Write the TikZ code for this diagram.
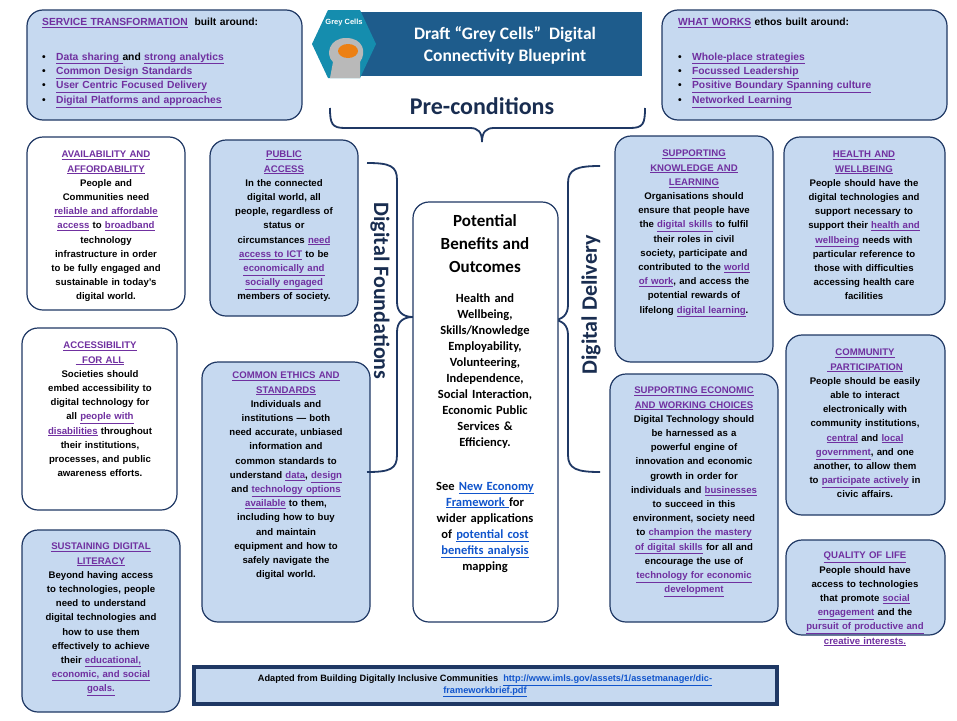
\documentclass[tikz,border=0pt]{standalone}
\usepackage{fontspec}
\setmainfont{Liberation Sans}
\newfontfamily\titlefont{Carlito}
\usetikzlibrary{positioning, calc}
\definecolor{navy}{RGB}{31,56,100}
\definecolor{cardblue}{RGB}{198,217,240}
\definecolor{banner}{RGB}{30,92,140}
\definecolor{plum}{RGB}{112,48,160}
\definecolor{linkblue}{RGB}{17,85,204}
\newcommand{\lk}[1]{{\color{plum}\underline{#1}}}
\newcommand{\bl}[1]{{\color{linkblue}\underline{#1}}}
\tikzset{
  card/.style={draw=navy, line width=1.2pt, rounded corners=16pt, fill=cardblue},
  whitecard/.style={card, fill=white},
  cardtext/.style={anchor=north, align=center, font=\bfseries\fontsize{9.6}{14.2}\selectfont, inner sep=0pt},
  toptext/.style={cardtext, anchor=north west, align=left, text width=265pt, font=\bfseries\fontsize{10.3}{14.4}\selectfont},
  bracket/.style={draw=navy, line width=1.8pt},
  headline/.style={font=\titlefont\bfseries\fontsize{22}{26}\selectfont, text=navy!80!black},
}
\begin{document}
\begin{tikzpicture}[x=1pt, y=-1pt]
        \useasboundingbox[fill=white] (0,0) rectangle (957,720);

        % top boxes
        \path[card] (27,10) rectangle (302,120);
        \node[toptext] (service) at (42,18)
            {\lk{SERVICE TRANSFORMATION} \ built around:\\[20pt]
             \textbullet\quad\lk{Data sharing }and \lk{strong analytics}\\
             \textbullet\quad\lk{Common Design Standards}\\
             \textbullet\quad\lk{User Centric Focused Delivery}\\
             \textbullet\quad\lk{Digital Platforms and approaches}};
        \path[card] (662,10) rectangle (947,120);
        \node[toptext] (works) at (678,18)
            {\lk{WHAT WORKS} ethos built around:\\[20pt]
             \textbullet\quad\lk{Whole-place strategies}\\
             \textbullet\quad\lk{Focussed Leadership}\\
             \textbullet\quad\lk{Positive Boundary Spanning culture}\\
             \textbullet\quad\lk{Networked Learning}};

        % title banner
        \fill[banner] (355,12) rectangle (642,76);
        \fill[banner!70!cyan] (312,44) -- (328,10) -- (360,10) -- (376,44) -- (360,78) -- (328,78) -- cycle;
        \fill[gray!55] (330,78) -- (333,62) .. controls (325,55) and (329,38) .. (346,38)
            .. controls (363,38) and (367,52) .. (360,62) -- (360,78) -- cycle;
        \fill[orange!70!brown] (348,51) ellipse (10pt and 7pt);
        \node[font=\bfseries\fontsize{7.5}{7.5}\selectfont, text=white] (logo) at (344,23) {Grey Cells};
        \node[align=center, text=white, font=\titlefont\bfseries\fontsize{17.5}{22}\selectfont] (title) at (505,45)
            {Draft “Grey Cells”\ \ Digital\\ Connectivity Blueprint};

        % pre-conditions
        \draw[bracket] (330,108) .. controls (330,124) and (332,128) .. (345,128) -- (470,128)
            .. controls (478,128) and (482,132) .. (482,142) .. controls (482,132) and (486,128) .. (494,128)
            -- (630,128) .. controls (643,128) and (645,124) .. (645,108);
        \node[headline, font=\titlefont\bfseries\fontsize{24}{28}\selectfont] (pre) at (482,106) {Pre-conditions};

        % left column
        \path[whitecard] (27,137) rectangle (185,310);
        \node[cardtext, text width=156pt] (avail) at (106,151)
            {\lk{AVAILABILITY AND}\\ \lk{AFFORDABILITY}\\ People and\\ Communities need\\
             \lk{reliable and affordable}\\ \lk{access} to \lk{broadband}\\ technology\\
             infrastructure in order\\ to be fully engaged and\\ sustainable in today's\\ digital world.};
        \path[whitecard] (22,328) rectangle (177,510);
        \node[cardtext, text width=154pt] (access) at (100,342)
            {\lk{ACCESSIBILITY}\\ \lk{\ \ FOR ALL}\\ Societies should\\ embed accessibility to\\
             digital technology for\\ all \lk{people with}\\ \lk{disabilities} throughout\\
             their institutions,\\ processes, and public\\ awareness efforts.};
        \path[card] (22,530) rectangle (180,712);
        \node[cardtext, text width=156pt] (literacy) at (101,543)
            {\lk{SUSTAINING DIGITAL}\\ \lk{LITERACY}\\ Beyond having access\\ to technologies, people\\
             need to understand\\ digital technologies and\\ how to use them\\ effectively to achieve\\
             their \lk{educational,}\\ \lk{economic, and social}\\ \lk{goals.}};

        % second column
        \path[card] (210,140) rectangle (358,316);
        \node[cardtext, text width=146pt] (public) at (284,151)
            {\lk{PUBLIC}\\ \lk{ACCESS}\\ In the connected\\ digital world, all\\ people, regardless of\\
             status or\\ circumstances \lk{need}\\ \lk{access to ICT} to be\\ \lk{economically and}\\
             \lk{socially engaged}\\ members of society.};
        \path[card] (202,362) rectangle (370,622);
        \node[cardtext, text width=166pt] (ethics) at (286,372)
            {\lk{COMMON ETHICS AND}\\ \lk{STANDARDS}\\ Individuals and\\ institutions --- both\\
             need accurate, unbiased\\ information and\\ common standards to\\ understand \lk{data}, \lk{design}\\
             and \lk{technology options}\\ \lk{available} to them,\\ including how to buy\\ and maintain\\
             equipment and how to\\ safely navigate the\\ digital world.};

        % foundations and delivery
        \draw[bracket] (367,163) .. controls (390,163) and (397,166) .. (397,180) -- (397,302)
            .. controls (397,312) and (403,317) .. (413,317) .. controls (403,317) and (397,322) .. (397,332)
            -- (397,455) .. controls (397,469) and (390,472) .. (367,472);
        \node[rotate=-90, headline] (found) at (380,291) {Digital Foundations};
        \draw[bracket] (600,166) .. controls (577,166) and (568,169) .. (568,183) -- (568,305)
            .. controls (568,315) and (562,320) .. (553,320) .. controls (562,320) and (568,325) .. (568,335)
            -- (568,455) .. controls (568,469) and (577,472) .. (600,472);
        \node[rotate=90, headline] (deliv) at (591,305) {Digital Delivery};

        % centre
        \path[whitecard] (413,202) rectangle (558,622);
        \node[cardtext, text width=144pt, font=\titlefont\bfseries\fontsize{12.5}{16}\selectfont] (outcome) at (485,214)
            {{\fontsize{17}{23}\selectfont Potential\\ Benefits and\\ Outcomes\par}\vspace{14pt}
             Health and\\ Wellbeing,\\ Skills/Knowledge\\ Employability,\\ Volunteering,\\ Independence,\\
             Social Interaction,\\ Economic Public\\ Services \&\\ Efficiency.\\[28pt]
             See \bl{New Economy}\\ \bl{Framework }for\\ wider applications\\ of \bl{potential cost}\\
             \bl{benefits analysis}\\ mapping};

        % third column
        \path[card] (615,136) rectangle (773,362);
        \node[cardtext, text width=158pt] (skills) at (694,150)
            {\lk{SUPPORTING}\\ \lk{KNOWLEDGE AND}\\ \lk{LEARNING}\\ Organisations should\\ ensure that people have\\
             the \lk{digital skills} to fulfil\\ their roles in civil\\ society, participate and\\
             contributed to the \lk{world}\\ \lk{of work}, and access the\\ potential rewards of\\ lifelong \lk{digital learning}.};
        \path[card] (610,374) rectangle (778,622);
        \node[cardtext, text width=168pt] (econ) at (694,387)
            {\lk{SUPPORTING ECONOMIC}\\ \lk{AND WORKING CHOICES}\\ Digital Technology should\\ be harnessed as a\\
             powerful engine of\\ innovation and economic\\ growth in order for\\ individuals and \lk{businesses}\\
             to succeed in this\\ environment, society need\\ to \lk{champion the mastery}\\ \lk{of digital skills} for all and\\
             encourage the use of\\ \lk{technology for economic}\\ \lk{development}};

        % right column
        \path[card] (784,137) rectangle (945,315);
        \node[cardtext, text width=160pt] (health) at (864,151)
            {\lk{HEALTH AND}\\ \lk{WELLBEING}\\ People should have the\\ digital technologies and\\
             support necessary to\\ support their \lk{health and}\\ \lk{wellbeing} needs with\\
             particular reference to\\ those with difficulties\\ accessing health care\\ facilities};
        \path[card] (786,335) rectangle (945,515);
        \node[cardtext, text width=160pt] (community) at (865,349)
            {\lk{COMMUNITY}\\ \lk{\ PARTICIPATION}\\ People should be easily\\ able to interact\\
             electronically with\\ community institutions,\\ \lk{central} and \lk{local}\\
             \lk{government}, and one\\ another, to allow them\\ to \lk{participate actively} in\\ civic affairs.};
        \path[card] (786,540) rectangle (945,635);
        \node[cardtext, text width=160pt] (quality) at (865,552)
            {\lk{QUALITY OF LIFE}\\ People should have\\ access to technologies\\ that promote \lk{social}\\
             \lk{engagement} and the\\ \lk{pursuit of productive and}\\ \lk{creative interests.}};

        % footer
        \draw[draw=navy, line width=4pt, fill=cardblue] (194,667) rectangle (777,704);
        \node[align=center, font=\bfseries\fontsize{9.2}{11.5}\selectfont] (source) at (485,686)
            {Adapted from Building Digitally Inclusive Communities\ \ \bl{http://www.imls.gov/assets/1/assetmanager/dic-}\\
             \bl{frameworkbrief.pdf}};
    \end{tikzpicture}
\end{document}
